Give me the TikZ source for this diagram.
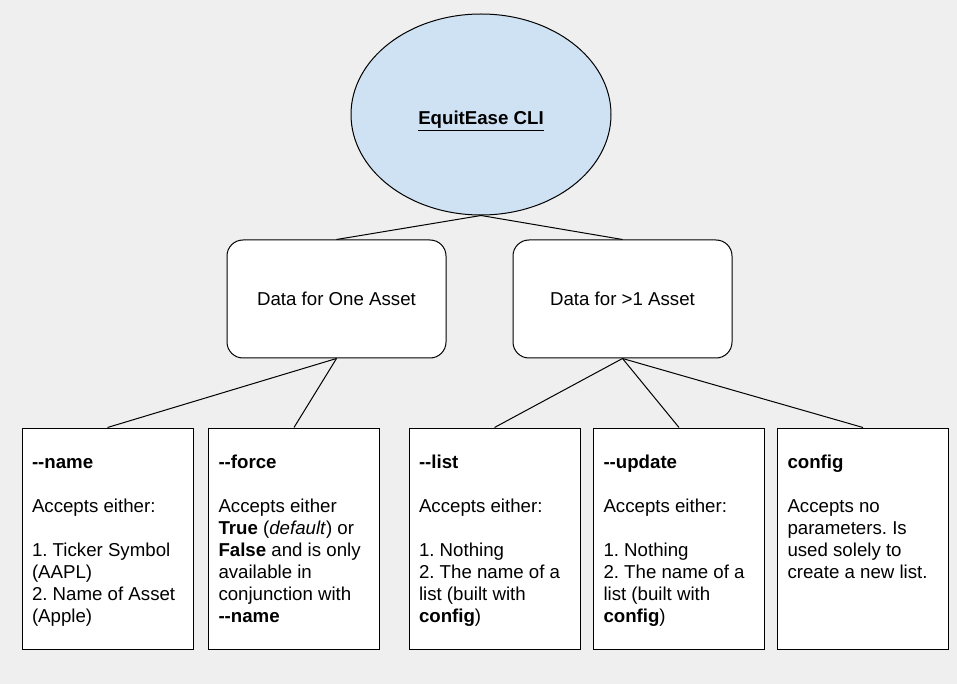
\documentclass[tikz,border=0pt]{standalone}
\usepackage{fontspec}
\setmainfont{Liberation Sans}
\usetikzlibrary{shapes.geometric}
\definecolor{canvas}{HTML}{EFEFEF}
\definecolor{rootblue}{HTML}{CFE2F3}
\frenchspacing
\newcommand{\flagname}[1]{\textbf{-\kern0pt-#1}}
\newcommand{\optiontext}[1]{\parbox[c][165.75pt][t]{113.25pt}{\raggedright\rule{0pt}{30pt}#1}}
\tikzset{
  rootnode/.style={ellipse, draw, fill=rootblue, line width=0.75pt, minimum width=195pt,
    minimum height=150.75pt, inner sep=0pt, text height=18pt, text depth=3pt,
    font=\fontsize{14pt}{16.5pt}\selectfont\bfseries},
  groupbox/.style={rectangle, rounded corners=12pt, draw, fill=white, line width=0.75pt,
    minimum width=164.25pt, minimum height=88.5pt, inner sep=0pt, font=\fontsize{14pt}{16.5pt}\selectfont},
  optionbox/.style={rectangle, draw, fill=white, line width=0.75pt, minimum width=128.25pt,
    minimum height=165.75pt, inner sep=0pt, font=\fontsize{14pt}{16.5pt}\selectfont},
  link/.style={line width=0.75pt}
}
\begin{document}
\begin{tikzpicture}[x=0.75pt, y=-0.75pt]
    % Background
    \fill[canvas] (0,0) rectangle (957,684);
    % Root
    \node[rootnode] (cli) at (481,114.5) {\underline{EquitEase CLI}};
    % Groups
    \node[groupbox] (one) at (336.5,299) {Data for One Asset};
    \node[groupbox] (many) at (622.5,299) {Data for >1 Asset};
    % Options
    \node[optionbox] (name) at (107.5,538.5) {\optiontext{\flagname{name}\\[16.5pt]
        Accepts either:\\[16.5pt]1. Ticker Symbol\\(AAPL)\\2. Name of Asset\\(Apple)}};
    \node[optionbox] (force) at (294,538.5) {\optiontext{\flagname{force}\\[16.5pt]
        Accepts either\\\textbf{True} (\textit{default}) or\\\textbf{False} and is only\\
        available in\\conjunction with\\\flagname{name}}};
    \node[optionbox] (list) at (494.5,538.5) {\optiontext{\flagname{list}\\[16.5pt]
        Accepts either:\\[16.5pt]1. Nothing\\2. The name of a\\list (built with\\\textbf{config})}};
    \node[optionbox] (update) at (679,538.5) {\optiontext{\flagname{update}\\[16.5pt]
        Accepts either:\\[16.5pt]1. Nothing\\2. The name of a\\list (built with\\\textbf{config})}};
    \node[optionbox] (config) at (863,538.5) {\optiontext{\textbf{config}\\[16.5pt]
        Accepts no\\parameters. Is\\used solely to\\create a new list.}};
    % Links
    \draw[link] (cli.south) -- (one.north);
    \draw[link] (cli.south) -- (many.north);
    \draw[link] (one.south) -- (name.north);
    \draw[link] (one.south) -- (force.north);
    \draw[link] (many.south) -- (list.north);
    \draw[link] (many.south) -- (update.north);
    \draw[link] (many.south) -- (config.north);
\end{tikzpicture}
\end{document}
